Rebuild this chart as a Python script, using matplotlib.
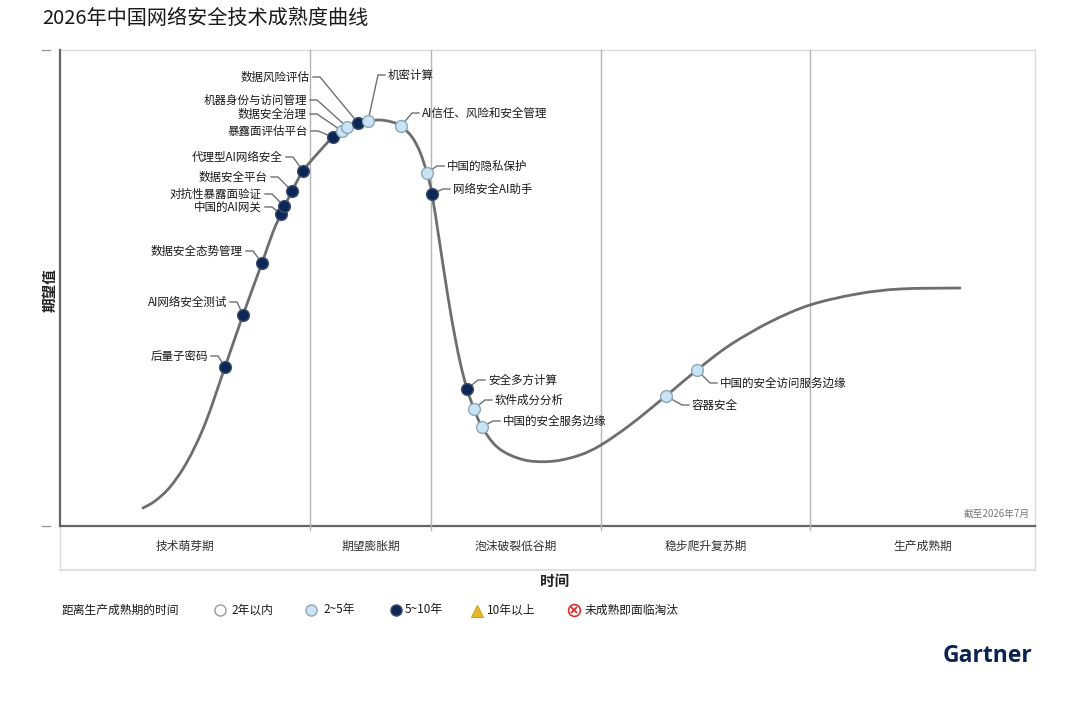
import matplotlib
matplotlib.use("Agg")
import matplotlib.pyplot as plt
import numpy as np
from matplotlib.path import Path
from matplotlib.patches import PathPatch

plt.rcParams['font.family'] = ['Noto Sans CJK SC', 'DejaVu Sans']

# ---------------- data ----------------
title = "2026年中国网络安全技术成熟度曲线"
phases = ["技术萌芽期", "期望膨胀期", "泡沫破裂低谷期", "稳步爬升复苏期", "生产成熟期"]
phase_bounds = [0, 250, 371, 541, 750, 975]   # time positions of phase boundaries

# hype curve (time, expectation)
curve_t = [83, 95, 110, 127, 145, 165, 183, 202, 213, 221, 232, 243, 258, 273, 287, 298, 308,
           320, 332, 341, 352, 360, 367, 372, 380, 388, 395, 401, 407, 414, 422, 435, 450,
           470, 495, 520, 541, 570, 606, 637, 670, 710, 750, 797, 840, 900]
curve_e = [18, 25, 39, 64, 102, 159, 211, 263, 294, 312, 335, 355, 373, 389, 399, 403, 405,
           406, 404, 400, 389, 374, 353, 332, 281, 229, 189, 160, 137, 117, 99, 81, 71,
           65, 65, 71, 81, 101, 130, 156, 181, 204, 221, 232, 237, 238]

tech_names = ["后量子密码", "AI网络安全测试", "数据安全态势管理", "中国的AI网关", "对抗性暴露面验证",
              "数据安全平台", "代理型AI网络安全", "暴露面评估平台", "数据安全治理", "机器身份与访问管理",
              "数据风险评估", "机密计算", "AI信任、风险和安全管理", "中国的隐私保护", "网络安全AI助手",
              "安全多方计算", "软件成分分析", "中国的安全服务边缘", "容器安全", "中国的安全访问服务边缘"]
tech_t = [165, 183, 202, 221, 224, 232, 243, 273, 282, 287, 298, 308, 341, 367, 372,
          407, 414, 422, 606, 637]
tech_e = [159, 211, 263, 312, 320, 335, 355, 389, 395, 399, 403, 405, 400, 353, 332,
          137, 117, 99, 130, 156]
tech_cat = ["5-10", "5-10", "5-10", "5-10", "5-10", "5-10", "5-10", "5-10", "2-5", "2-5",
            "5-10", "2-5", "2-5", "2-5", "5-10", "5-10", "2-5", "2-5", "2-5", "2-5"]

legend_title = "距离生产成熟期的时间"
legend_labels = ["2年以内", "2~5年", "5~10年", "10年以上", "未成熟即面临淘汰"]

# ---------------- layout (pixels) ----------------
W, H = 1080, 702
AX_L, AX_R, AX_T, AX_B = 60, 1035, 50, 526
# label layout: side, horizontal offset to text anchor, vertical offset (px, down positive)
label_side = ["L", "L", "L", "L", "L", "L", "L", "L", "L", "L", "L",
              "R", "R", "R", "R", "R", "R", "R", "R", "R"]
label_dx = [-17, -16, -19, -19, -22, -24, -20, -25, -35, -40, -48,
            20, 21, 20, 21, 21, 21, 21, 26, 23]
label_dy = [-11, -13, -12, -7, -12, -14, -14, -6, -17, -27, -46,
            -46, -13, -7, -5, -9, -9, -6, 9, 13]

style = {
    "2-5": dict(fc="#c9e4f4", ec="#8ea7b8"),
    "5-10": dict(fc="#0c2656", ec="#3d4f6a"),
}

fig = plt.figure(figsize=(W / 100, H / 100), dpi=100)
fig.patch.set_facecolor("white")

ax = fig.add_axes([AX_L / W, 1 - AX_B / H, (AX_R - AX_L) / W, (AX_B - AX_T) / H])
ax.set_xlim(0, AX_R - AX_L)
ax.set_ylim(0, AX_B - AX_T)
ax.axis("off")

# overlay axes in pixel coordinates for frame, bands, legend
ov = fig.add_axes([0, 0, 1, 1], zorder=-1)
ov.set_xlim(0, W)
ov.set_ylim(H, 0)
ov.axis("off")

# frame
ov.plot([AX_L, AX_R], [AX_T, AX_T], color="#dcdcdc", lw=1)
ov.plot([AX_R, AX_R], [AX_T, 570], color="#dcdcdc", lw=1)
ov.plot([AX_L, AX_L], [AX_B, 570], color="#dcdcdc", lw=1)
ov.plot([AX_L, AX_R], [570, 570], color="#dcdcdc", lw=1.2)
ov.plot([AX_L, AX_L], [AX_T, AX_B], color="#666666", lw=1.6)
ov.plot([AX_L, AX_R], [AX_B, AX_B], color="#666666", lw=1.6)
for yy in (AX_T, AX_B):
    ov.plot([42, 50], [yy, yy], color="#999999", lw=1)

# phase dividers and labels
for b in phase_bounds[1:-1]:
    ax.plot([b, b], [-4, AX_B - AX_T], color="#b5b5b5", lw=1, zorder=1, clip_on=False)
for i, p in enumerate(phases):
    xc = AX_L + (phase_bounds[i] + phase_bounds[i + 1]) / 2
    ov.text(xc, 546, p, ha="center", va="center", fontsize=8.5, color="#333333")

# smooth curve through points (Catmull-Rom -> Bezier)
pts = np.column_stack([curve_t, curve_e]).astype(float)
verts = [pts[0]]
codes = [Path.MOVETO]
for i in range(len(pts) - 1):
    p0 = pts[i - 1] if i > 0 else pts[i]
    p1, p2 = pts[i], pts[i + 1]
    p3 = pts[i + 2] if i + 2 < len(pts) else pts[i + 1]
    c1 = p1 + (p2 - p0) / 6
    c2 = p2 - (p3 - p1) / 6
    verts += [c1, c2, p2]
    codes += [Path.CURVE4] * 3
ax.add_patch(PathPatch(Path(verts, codes), fill=False, ec="#6e6e6e", lw=2.0,
                       capstyle="round", zorder=2))

# connectors, markers, labels
for name, t, e, cat, side, dx, dy in zip(tech_names, tech_t, tech_e, tech_cat,
                                          label_side, label_dx, label_dy):
    lx, ly = t + dx, e - dy
    if side == "L":
        xs = [t, lx + 10, lx + 3]
        ha = "right"
    else:
        xs = [t, lx - 10, lx - 3]
        ha = "left"
    ax.plot(xs, [e, ly, ly], color="#707070", lw=1, zorder=3)
    ax.plot(t, e, "o", ms=8.5, mfc=style[cat]["fc"], mec=style[cat]["ec"], mew=1.0, zorder=4)
    ax.text(lx, ly, name, ha=ha, va="center", fontsize=8.3, color="#1a1a1a", zorder=5)

ax.text(970, 12, "截至2026年7月", ha="right", va="center", fontsize=7, color="#777777")

# titles
ov.text(42, 18, title, ha="left", va="center", fontsize=14.5, color="#1a1a1a")
ov.text(50, 290, "期望值", ha="center", va="center", rotation=90, fontsize=10.5,
        fontweight="bold", color="#222222")
ov.text(555, 581, "时间", ha="center", va="center", fontsize=10.5, fontweight="bold",
        color="#222222")

# legend
ly = 610
ov.text(62, ly, legend_title, ha="left", va="center", fontsize=8.5, color="#1a1a1a")
ov.plot(220, ly, "o", ms=8, mfc="white", mec="#9a9a9a", mew=1)
ov.plot(311, ly, "o", ms=8, mfc=style["2-5"]["fc"], mec=style["2-5"]["ec"], mew=1)
ov.plot(396, ly, "o", ms=8, mfc=style["5-10"]["fc"], mec=style["5-10"]["ec"], mew=1)
ov.plot(477, ly + 1, "^", ms=9, mfc="#e8b72a", mec="#d2a020", mew=0.8)
ov.plot(574, ly, "o", ms=8.5, mfc="white", mec="#d9302c", mew=1.2)
ov.plot(574, ly, "x", ms=5, mec="#d9302c", mew=1.3)
for x0, lab in zip([231, 323, 405, 487, 585], legend_labels):
    ov.text(x0, ly, lab, ha="left", va="center", fontsize=8.5, color="#1a1a1a")

# logo
ov.text(1032, 656, "Gartner", ha="right", va="center", fontsize=16.5, fontweight="bold",
        family=["Open Sans", "DejaVu Sans"], color="#0b2350")

fig.savefig("out.png", dpi=100, facecolor="white")
